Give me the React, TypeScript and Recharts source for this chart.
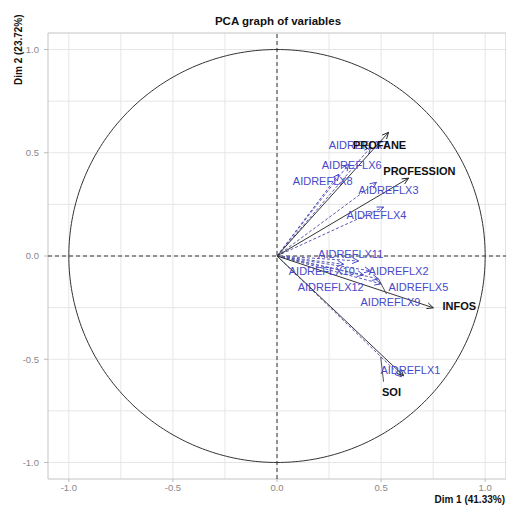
import React from 'react';
import {
  ScatterChart, Scatter, XAxis, YAxis, CartesianGrid, ReferenceLine, ReferenceArea,
} from 'recharts';

// Active variables (black, solid arrows)
const activeNames = ['PROFANE', 'PROFESSION', 'INFOS', 'SOI'];
const activeX = [0.536, 0.632, 0.751, 0.608];
const activeY = [0.599, 0.377, -0.251, -0.58];
const activeLabelX = [0.493, 0.684, 0.876, 0.55];
const activeLabelY = [0.536, 0.411, -0.242, -0.657];

// Supplementary variables (blue, dashed arrows)
const suppNames = [
  'AIDREFLX1', 'AIDREFLX2', 'AIDREFLX3', 'AIDREFLX4', 'AIDREFLX5', 'AIDREFLX6',
  'AIDREFLX7', 'AIDREFLX8', 'AIDREFLX9', 'AIDREFLX10', 'AIDREFLX11', 'AIDREFLX12',
];
const suppX = [0.598, 0.45, 0.478, 0.512, 0.488, 0.344, 0.45, 0.297, 0.5, 0.32, 0.392, 0.416];
const suppY = [-0.585, -0.072, 0.357, 0.237, -0.111, 0.444, 0.527, 0.396, -0.135, -0.04, -0.024, -0.092];
const suppLabelX = [0.641, 0.584, 0.536, 0.478, 0.679, 0.359, 0.392, 0.22, 0.545, 0.215, 0.354, 0.258];
const suppLabelY = [-0.551, -0.072, 0.319, 0.198, -0.15, 0.44, 0.536, 0.362, -0.222, -0.072, 0.01, -0.15];

// label connector segments (repel links)
const linkX1 = [0.498, 0.488];
const linkY1 = [-0.488, -0.111];
const linkX2 = [0.512, 0.526];
const linkY2 = [-0.609, -0.184];

const axisTicks = [-1, -0.5, 0, 0.5, 1];
const gridValues = [-1, -0.75, -0.5, -0.25, 0, 0.25, 0.5, 0.75, 1];

const BLUE = '#4848c8';
const FONT = '"Liberation Sans", Arial, sans-serif';

// unit circle of correlations (geometric reference, not data)
const circle = Array.from({ length: 361 }, (_, i) => ({
  x: Math.cos((i * Math.PI) / 180),
  y: Math.sin((i * Math.PI) / 180),
}));

const makeArrowShape = (color: string) => (props: any) => {
  const { cx, cy, payload } = props;
  if (!payload || !payload.tip || cx == null) return <g />;
  const a = Math.atan2(-payload.y, payload.x);
  const L = 7;
  const t = (25 * Math.PI) / 180;
  const x1 = cx - L * Math.cos(a - t);
  const y1 = cy - L * Math.sin(a - t);
  const x2 = cx - L * Math.cos(a + t);
  const y2 = cy - L * Math.sin(a + t);
  return (
    <path d={`M${x1},${y1}L${cx},${cy}L${x2},${y2}`} fill="none" stroke={color} strokeWidth={1} />
  );
};

const makeLabelShape = (color: string, bold: boolean) => (props: any) => {
  const { cx, cy, payload } = props;
  if (cx == null) return <g />;
  return (
    <text
      x={cx}
      y={cy}
      textAnchor="middle"
      dominantBaseline="central"
      fill={color}
      fontSize={11}
      fontWeight={bold ? 'bold' : 'normal'}
      fontFamily={FONT}
    >
      {payload.name}
    </text>
  );
};

const noDot = () => <g />;

export default function App() {
  const suppArrows = suppNames.map((n, i) => [
    { x: 0, y: 0, tip: false },
    { x: suppX[i], y: suppY[i], tip: true },
  ]);
  const activeArrows = activeNames.map((n, i) => [
    { x: 0, y: 0, tip: false },
    { x: activeX[i], y: activeY[i], tip: true },
  ]);
  const links = linkX1.map((_, i) => [
    { x: linkX1[i], y: linkY1[i] },
    { x: linkX2[i], y: linkY2[i] },
  ]);
  const suppLabels = suppNames.map((n, i) => ({ name: n, x: suppLabelX[i], y: suppLabelY[i] }));
  const activeLabels = activeNames.map((n, i) => ({ name: n, x: activeLabelX[i], y: activeLabelY[i] }));

  const blueArrow = makeArrowShape(BLUE);
  const blackArrow = makeArrowShape('#222');

  return (
    <div style={{ position: 'absolute', left: 0, top: 0, width: 506, height: 506, background: '#fff' }}>
      <div
        style={{
          position: 'absolute', left: 0, width: 556, top: 14, textAlign: 'center',
          fontFamily: FONT, fontWeight: 'bold', fontSize: 11.5, color: '#111', lineHeight: '14px',
        }}
      >
        PCA graph of variables
      </div>
      <div
        style={{
          position: 'absolute', right: 1, top: 494, fontFamily: FONT, fontWeight: 'bold',
          fontSize: 10, color: '#111', lineHeight: '12px', whiteSpace: 'nowrap',
        }}
      >
        Dim 1 (41.33%)
      </div>
      <div
        style={{
          position: 'absolute', left: -16, top: 44, width: 70, textAlign: 'center',
          transform: 'rotate(-90deg)', fontFamily: FONT, fontWeight: 'bold', fontSize: 10,
          color: '#111', lineHeight: '12px', whiteSpace: 'nowrap',
        }}
      >
        Dim 2 (23.72%)
      </div>
      <ScatterChart width={506} height={506} margin={{ top: 33, right: 0, bottom: 0, left: 0 }}>
        <CartesianGrid
          stroke="#e6e6e6"
          horizontalValues={gridValues}
          verticalValues={gridValues}
        />
        <ReferenceArea x1={-1.1} x2={1.1} y1={-1.08} y2={1.08} fill="none" stroke="#c4c4c4" strokeWidth={1} />
        <XAxis
          type="number"
          dataKey="x"
          domain={[-1.1, 1.1]}
          allowDataOverflow
          ticks={axisTicks}
          tickFormatter={(v: number) => v.toFixed(1)}
          height={27}
          axisLine={false}
          tickSize={3}
          tickLine={{ stroke: '#bbb' }}
          tick={{ fill: '#888', fontSize: 9.5, fontFamily: FONT }}
        />
        <YAxis
          type="number"
          dataKey="y"
          domain={[-1.08, 1.08]}
          allowDataOverflow
          ticks={axisTicks}
          tickFormatter={(v: number) => v.toFixed(1)}
          width={48}
          axisLine={false}
          tickSize={4}
          tickMargin={5}
          tickLine={{ stroke: '#bbb' }}
          tick={{ fill: '#888', fontSize: 9.5, fontFamily: FONT }}
        />
        <ReferenceLine x={0} stroke="#333" strokeDasharray="4 3" />
        <ReferenceLine y={0} stroke="#333" strokeDasharray="4 3" />
        <Scatter
          data={circle}
          line={{ stroke: '#333', strokeWidth: 1 }}
          shape={noDot}
          isAnimationActive={false}
        />
        {suppArrows.map((d, i) => (
          <Scatter
            key={'s' + i}
            data={d}
            line={{ stroke: '#5a5ab4', strokeWidth: 1, strokeDasharray: '3 2' }}
            shape={blueArrow}
            isAnimationActive={false}
          />
        ))}
        {activeArrows.map((d, i) => (
          <Scatter
            key={'a' + i}
            data={d}
            line={{ stroke: '#333', strokeWidth: 1 }}
            shape={blackArrow}
            isAnimationActive={false}
          />
        ))}
        {links.map((d, i) => (
          <Scatter
            key={'l' + i}
            data={d}
            line={{ stroke: '#555', strokeWidth: 1 }}
            shape={noDot}
            isAnimationActive={false}
          />
        ))}
        <Scatter data={suppLabels} shape={makeLabelShape(BLUE, false)} isAnimationActive={false} />
        <Scatter data={activeLabels} shape={makeLabelShape('#111', true)} isAnimationActive={false} />
      </ScatterChart>
    </div>
  );
}
